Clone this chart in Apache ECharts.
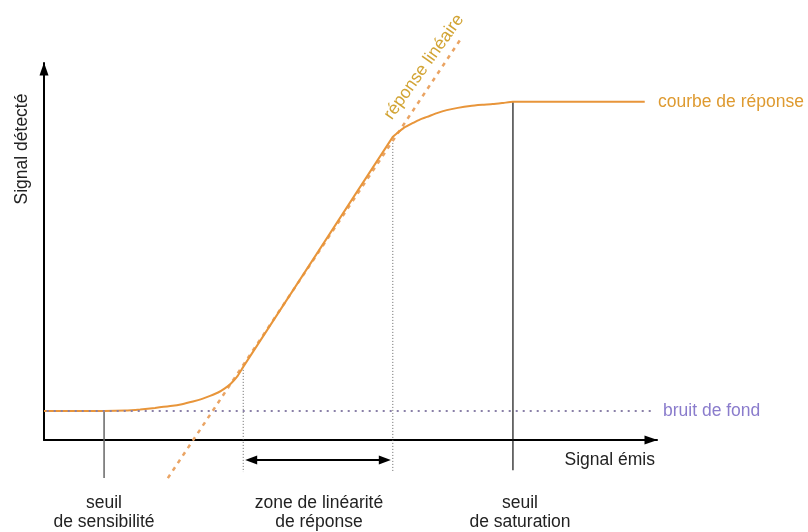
<!DOCTYPE html>
<html>
<head>
<meta charset="utf-8">
<script src="https://cdn.jsdelivr.net/npm/echarts@6/dist/echarts.min.js"></script>
<style>
  html, body { margin: 0; padding: 0; background: #fff; }
  #chart { width: 808px; height: 532px; }
</style>
</head>
<body>
<div id="chart"></div>
<script>
// courbe de réponse (unités arbitraires, 0-100 sur chaque axe)
const curveX = [0, 9.8, 13.2, 15.7, 18.1, 20.6, 22.5, 24.3, 25.8, 27.1, 28.4, 29.5, 30.5, 31.5, 32.5,
  44.7, 56.9, 57.6, 58.7, 60.2, 61.3, 62.5, 64.1, 65.7, 67.5, 69.5, 71.5, 73.2, 74.9, 76.5, 98];
const curveY = [7.7, 7.7, 7.8, 8.1, 8.5, 9.0, 9.5, 10.2, 10.9, 11.7, 12.6, 13.7, 15.0, 16.8, 19.4,
  49.9, 80.4, 81.4, 82.8, 84.1, 85.0, 85.7, 86.7, 87.5, 88.1, 88.6, 88.9, 89.1, 89.4, 89.7, 89.7];

// réponse linéaire (prolongement en pointillés)
const linearX = [20.2, 68.2];
const linearY = [-10.1, 106.9];

// bruit de fond
const noiseX = [-0.7, 99.2];
const noiseLevel = 7.7;

// seuils
const sensX = 9.8;      // seuil de sensibilité
const linStartX = 32.5; // début zone de linéarité
const linEndX = 56.9;   // fin zone de linéarité
const satX = 76.5;      // seuil de saturation
const linStartY = 19.4;
const linEndY = 80.4;
const satY = 89.7;
const zoneArrowY = -5.3;

const zip = (xs, ys) => xs.map((x, i) => [x, ys[i]]);

const FONT = '17.5px "Liberation Sans", Arial, Helvetica, sans-serif';

const chart = echarts.init(document.getElementById('chart'));

const axisCommon = {
  type: 'value',
  min: 0,
  max: 100,
  axisLabel: { show: false },
  axisTick: { show: false },
  splitLine: { show: false },
  axisLine: {
    show: true,
    onZero: false,
    symbol: ['none', 'triangle'],
    symbolSize: [9, 13],
    symbolOffset: [0, -6],
    lineStyle: { color: '#000', width: 2 },
  },
};

function vline(x, yTop, yBottom, color, width, type) {
  return {
    type: 'line',
    data: [[x, yTop], [x, yBottom]],
    symbol: 'none',
    clip: false,
    silent: true,
    z: 1,
    lineStyle: { color: color, width: width, type: type },
  };
}

const option = {
  animation: false,
  backgroundColor: '#fff',
  grid: { left: 44, right: 151, top: 63, bottom: 92 },
  xAxis: axisCommon,
  yAxis: axisCommon,
  series: [
    vline(sensX, noiseLevel, -10.1, '#666', 1.5, 'solid'),
    vline(linStartX, linStartY, -8.5, '#666', 1, [1, 2]),
    vline(linEndX, linEndY, -8.5, '#666', 1, [1, 2]),
    vline(satX, satY, -8.0, '#111', 1.2, 'solid'),
    {
      // zone de linéarité : double flèche
      type: 'line',
      data: [
        { value: [linStartX + 1.3, zoneArrowY], symbolRotate: 90 },
        { value: [linEndX - 1.3, zoneArrowY], symbolRotate: -90 },
      ],
      symbol: 'triangle',
      symbolSize: [9, 12],
      showSymbol: true,
      clip: false,
      silent: true,
      z: 2,
      itemStyle: { color: '#000' },
      lineStyle: { color: '#000', width: 2 },
    },
    {
      // réponse linéaire
      type: 'line',
      data: zip(linearX, linearY),
      symbol: 'none',
      clip: false,
      silent: true,
      z: 2,
      lineStyle: { color: '#eaa464', width: 2.5, type: [4, 5] },
    },
    {
      // courbe de réponse
      type: 'line',
      data: zip(curveX, curveY),
      symbol: 'none',
      smooth: 0.2,
      clip: false,
      silent: true,
      z: 3,
      lineStyle: { color: '#e8953a', width: 2 },
    },
    {
      // bruit de fond
      type: 'line',
      data: [[noiseX[0], noiseLevel], [noiseX[1], noiseLevel]],
      symbol: 'none',
      clip: false,
      silent: true,
      z: 4,
      lineStyle: { color: '#8a80a8', width: 2, type: [2, 5] },
    },
  ],
  graphic: [
    { type: 'text', x: 22, y: 149, rotation: Math.PI / 2,
      style: { text: 'Signal détecté', font: FONT, fill: '#222', textAlign: 'center', textVerticalAlign: 'middle' } },
    { type: 'text', x: 424, y: 67, rotation: 0.951,
      style: { text: 'réponse linéaire', font: FONT, fill: '#d2a434', textAlign: 'center', textVerticalAlign: 'middle' } },
    { type: 'text', x: 658, y: 102,
      style: { text: 'courbe de réponse', font: FONT, fill: '#de9a30', textAlign: 'left', textVerticalAlign: 'middle' } },
    { type: 'text', x: 663, y: 411,
      style: { text: 'bruit de fond', font: FONT, fill: '#8a7ccc', textAlign: 'left', textVerticalAlign: 'middle' } },
    { type: 'text', x: 655, y: 460,
      style: { text: 'Signal émis', font: FONT, fill: '#222', textAlign: 'right', textVerticalAlign: 'middle' } },
    { type: 'text', x: 104, y: 513,
      style: { text: 'seuil\nde sensibilité', font: FONT, lineHeight: 19, fill: '#222', textAlign: 'center', textVerticalAlign: 'middle' } },
    { type: 'text', x: 319, y: 513,
      style: { text: 'zone de linéarité\nde réponse', font: FONT, lineHeight: 19, fill: '#222', textAlign: 'center', textVerticalAlign: 'middle' } },
    { type: 'text', x: 520, y: 513,
      style: { text: 'seuil\nde saturation', font: FONT, lineHeight: 19, fill: '#222', textAlign: 'center', textVerticalAlign: 'middle' } },
  ],
};

chart.setOption(option);
</script>
</body>
</html>
